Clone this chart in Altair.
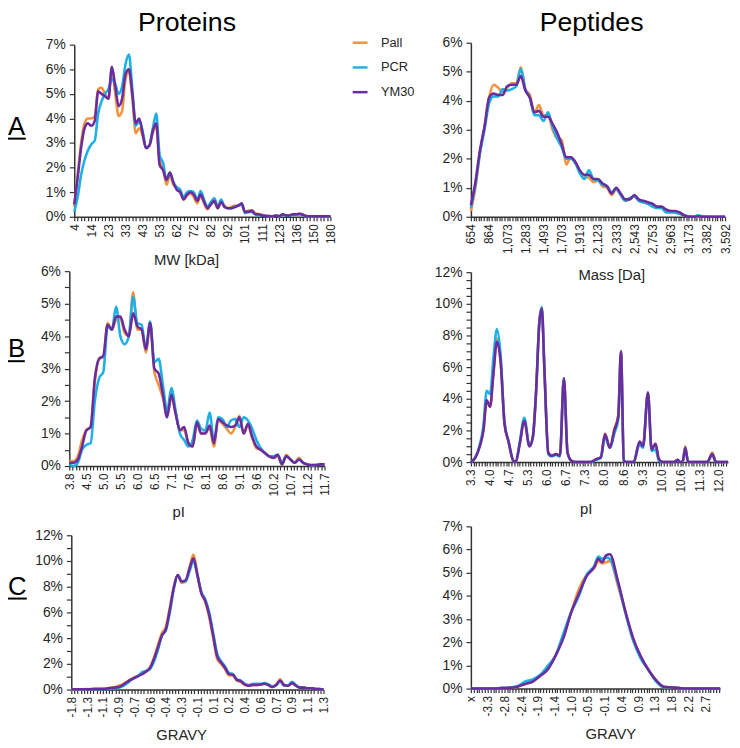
import json
import altair as alt
import pandas as pd

FONT = "Liberation Sans"
TXT = "#262626"
SERIES = ["Pall", "PCR", "YM30"]
COLORS = ["#F5923E", "#1DB0E6", "#6A2DA0"]
M = 8  # page margin

# ---------------- A: proteins MW ----------------
mw_labels = ["4", "14", "23", "33", "43", "53", "62", "72", "82", "92", "101", "111", "123", "136", "150", "180"]
mw_cat = list(range(76))  # category index, 5 categories per label
mw_pall = [0.4, 1.7, 3.0, 3.8, 4.0, 4.0, 4.1, 5.2, 5.25, 5.0,
           4.8, 6.0, 5.0, 4.1, 4.3, 5.6, 5.9, 4.8, 3.4, 3.6,
           3.3, 2.8, 2.9, 3.4, 3.7, 2.3, 2.0, 1.3, 1.7, 1.3,
           1.2, 1.1, 0.7, 0.85, 0.95, 0.8, 0.55, 0.85, 0.55, 0.3,
           0.55, 0.6, 0.35, 0.6, 0.45, 0.35, 0.4, 0.45, 0.45, 0.5,
           0.2, 0.25, 0.25, 0.15, 0.1, 0.08, 0.05, 0.03, 0.02, 0.05,
           0.03, 0.1, 0.05, 0.05, 0.1, 0.1, 0.12, 0.08, 0.03, 0.02,
           0.02, 0.02, 0.02, 0.02, 0.02, 0.02]
mw_pcr = [0.2, 0.8, 1.7, 2.3, 2.7, 2.95, 3.1, 4.2, 4.7, 5.0,
          5.2, 5.6, 5.4, 5.0, 5.3, 6.2, 6.6, 5.2, 3.7, 3.9,
          3.5, 2.8, 2.9, 3.6, 4.2, 2.5, 2.2, 1.5, 1.8, 1.4,
          1.2, 1.1, 0.8, 1.0, 1.05, 1.0, 0.7, 1.05, 0.7, 0.4,
          0.6, 0.75, 0.4, 0.7, 0.4, 0.35, 0.35, 0.4, 0.45, 0.5,
          0.15, 0.2, 0.2, 0.1, 0.05, 0.05, 0.03, 0.02, 0.02, 0.04,
          0.02, 0.08, 0.04, 0.04, 0.08, 0.08, 0.1, 0.06, 0.02, 0.02,
          0.02, 0.02, 0.02, 0.02, 0.02, 0.02]
mw_ym30 = [0.5, 1.6, 2.8, 3.6, 3.8, 3.7, 3.9, 5.1, 5.0, 4.9,
           4.8, 6.1, 5.3, 4.5, 4.8, 5.8, 6.0, 5.0, 3.8, 4.0,
           3.4, 2.8, 2.9, 3.5, 3.8, 2.1, 1.9, 1.5, 1.8, 1.4,
           1.1, 1.0, 0.7, 0.9, 1.0, 0.9, 0.65, 0.9, 0.6, 0.35,
           0.5, 0.65, 0.35, 0.6, 0.4, 0.35, 0.35, 0.4, 0.45, 0.55,
           0.2, 0.2, 0.25, 0.1, 0.1, 0.05, 0.03, 0.03, 0.02, 0.05,
           0.03, 0.1, 0.05, 0.05, 0.1, 0.1, 0.12, 0.08, 0.03, 0.02,
           0.02, 0.02, 0.02, 0.02, 0.02, 0.02]

# ---------------- A: peptides mass ----------------
mass_labels = ["654", "864", "1,073", "1,283", "1,493", "1,703", "1,913", "2,123", "2,333",
               "2,543", "2,753", "2,963", "3,173", "3,382", "3,592"]
mass_pos = [i * 0.25 for i in range(57)]
mass_pall = [0.2, 1.0, 2.2, 3.1, 4.1, 4.55, 4.45, 4.3, 4.45, 4.6,
             4.6, 5.15, 4.4, 4.2, 3.6, 3.85, 3.5, 3.5, 3.0, 2.7,
             2.65, 1.8, 2.05, 1.85, 1.6, 1.4, 1.35, 1.2, 1.25, 1.05,
             1.0, 0.75, 0.95, 0.75, 0.55, 0.6, 0.7, 0.55, 0.5, 0.45,
             0.4, 0.3, 0.3, 0.2, 0.2, 0.15, 0.1, 0.05, 0.0, 0.0,
             0.0, 0.0, 0.0, 0.0, 0.0, 0.0, 0.0]
mass_pcr = [0.3, 1.1, 2.2, 3.0, 3.9, 4.15, 4.15, 4.4, 4.35, 4.4,
            4.5, 5.1, 4.4, 4.1, 3.5, 3.5, 3.3, 3.6, 3.1, 2.7,
            2.4, 2.0, 2.0, 1.85, 1.5, 1.3, 1.6, 1.3, 1.25, 1.1,
            1.05, 0.85, 0.95, 0.75, 0.55, 0.65, 0.7, 0.55, 0.5, 0.45,
            0.35, 0.3, 0.3, 0.15, 0.15, 0.15, 0.1, 0.05, 0.02, 0.0,
            0.05, 0.02, 0.0, 0.0, 0.0, 0.0, 0.0]
mass_ym30 = [0.4, 1.2, 2.3, 3.1, 4.1, 4.25, 4.2, 4.2, 4.5, 4.55,
             4.55, 4.85, 4.35, 4.1, 3.6, 3.65, 3.45, 3.45, 3.2, 2.9,
             2.5, 2.05, 2.05, 1.9, 1.6, 1.45, 1.45, 1.3, 1.3, 1.15,
             1.05, 0.8, 1.0, 0.8, 0.6, 0.6, 0.75, 0.6, 0.55, 0.5,
             0.45, 0.35, 0.35, 0.25, 0.2, 0.2, 0.15, 0.05, 0.0, 0.0,
             0.02, 0.0, 0.0, 0.0, 0.0, 0.0, 0.0]

# ---------------- B: proteins pI ----------------
ppi_labels = ["3.8", "4.5", "5.0", "5.5", "6.0", "6.5", "7.1", "7.6", "8.1", "8.6",
              "9.1", "9.6", "10.2", "10.7", "11.2", "11.7"]
ppi_pos = [i * 0.25 for i in range(61)]
ppi_pall = [0.15, 0.15, 0.3, 0.8, 1.1, 1.2, 2.6, 3.3, 3.35, 4.4,
            4.2, 4.5, 4.55, 4.1, 4.0, 5.35, 4.2, 4.2, 3.5, 4.4,
            2.9, 2.5, 2.1, 1.6, 2.1, 1.65, 1.1, 1.1, 0.7, 0.6,
            1.3, 1.0, 1.05, 1.15, 0.6, 1.4, 1.3, 1.15, 1.0, 1.2,
            1.55, 1.0, 1.25, 0.85, 0.55, 0.5, 0.4, 0.3, 0.25, 0.3,
            0.05, 0.35, 0.2, 0.1, 0.25, 0.1, 0.05, 0.03, 0.03, 0.05,
            0.05]
ppi_pcr = [0.05, 0.0, 0.1, 0.5, 0.65, 0.7, 2.0, 2.7, 2.9, 4.3,
           4.2, 4.9, 4.0, 3.75, 4.0, 5.2, 4.4, 4.35, 3.6, 4.45,
           3.2, 3.3, 2.5, 1.7, 2.4, 1.7, 1.0, 0.8, 0.6, 0.8,
           1.4, 1.15, 1.1, 1.65, 0.75, 1.5, 1.45, 1.2, 1.4, 1.45,
           1.2, 1.5, 1.4, 1.15, 0.8, 0.55, 0.4, 0.3, 0.3, 0.35,
           0.1, 0.3, 0.2, 0.1, 0.2, 0.1, 0.05, 0.02, 0.03, 0.05,
           0.05]
ppi_ym30 = [0.1, 0.1, 0.2, 0.6, 1.1, 1.2, 2.7, 3.3, 3.4, 4.35,
            4.2, 4.6, 4.6, 4.2, 4.0, 4.7, 4.3, 4.2, 3.6, 4.4,
            3.0, 2.85, 2.2, 1.5, 2.2, 1.6, 1.1, 1.2, 0.7, 0.6,
            1.35, 1.0, 1.0, 1.25, 0.7, 1.45, 1.35, 1.25, 1.2, 1.25,
            1.5, 1.0, 1.3, 0.9, 0.6, 0.5, 0.4, 0.3, 0.25, 0.35,
            0.05, 0.3, 0.2, 0.1, 0.2, 0.1, 0.05, 0.03, 0.03, 0.05,
            0.05]

# ---------------- B: peptides pI ----------------
epi_labels = ["3.3", "4.0", "4.7", "5.3", "6.0", "6.7", "7.3", "8.0", "8.6", "9.3",
              "10.0", "10.6", "11.3", "12.0"]
epi_pos = [0.00, 0.24, 0.47, 0.66, 0.83, 1.01, 1.18, 1.37, 1.56, 1.77,
           1.98, 2.22, 2.36, 2.56, 2.81, 3.08, 3.26, 3.43, 3.60, 3.73,
           3.86, 4.07, 4.25, 4.47, 4.68, 4.89, 5.08, 5.27, 5.49, 6.27,
           6.62, 6.83, 7.05, 7.31, 7.54, 7.75, 7.89, 8.04, 8.18, 8.56,
           8.87, 9.05, 9.31, 9.50, 9.71, 9.88, 10.09, 10.69, 10.87, 10.99,
           11.13, 11.27, 11.42, 12.43, 12.69, 12.89, 13.52]
epi_pall = [0, 0.3, 1.0, 2.0, 3.8, 3.5, 5.6, 7.8, 6.4, 2.4,
            1.3, 0.1, 0.0, 1.1, 2.6, 1.0, 1.6, 4.5, 8.8, 9.7,
            6.0, 0.6, 0.4, 0.5, 0.4, 5.3, 0.6, 0.1, 0, 0,
            0.2, 0.3, 1.8, 0.9, 2.1, 3.0, 7.0, 0.1, 0, 0,
            1.3, 1.0, 4.4, 0.8, 1.15, 0.2, 0, 0, 0.15, 0,
            0, 1.0, 0, 0, 0.6, 0, 0]
epi_pcr = [0, 0.3, 1.1, 2.3, 4.5, 4.3, 6.5, 8.4, 6.8, 2.5,
           1.3, 0.1, 0.0, 1.2, 2.8, 1.0, 1.6, 4.5, 8.9, 9.8,
           6.1, 0.5, 0.35, 0.45, 0.35, 5.3, 0.6, 0.1, 0, 0,
           0.15, 0.25, 1.6, 0.9, 1.8, 2.7, 6.9, 0.1, 0, 0,
           1.1, 0.9, 4.4, 0.7, 0.8, 0.1, 0, 0, 0.15, 0,
           0, 0.9, 0, 0, 0.45, 0, 0]
epi_ym30 = [0, 0.3, 1.0, 2.0, 3.9, 3.5, 5.5, 7.6, 6.4, 2.4,
            1.3, 0.1, 0.0, 1.1, 2.6, 1.0, 1.6, 4.5, 8.8, 9.7,
            6.0, 0.6, 0.4, 0.5, 0.4, 5.3, 0.6, 0.1, 0, 0,
            0.2, 0.3, 1.75, 0.9, 2.0, 2.9, 7.0, 0.1, 0, 0,
            1.3, 1.0, 4.4, 0.8, 1.15, 0.2, 0, 0, 0.15, 0,
            0, 0.9, 0, 0, 0.5, 0, 0]

# ---------------- C: proteins GRAVY ----------------
pgr_labels = ["-1.8", "-1.3", "-1.1", "-0.9", "-0.7", "-0.6", "-0.4", "-0.3", "-0.1",
              "0.1", "0.2", "0.4", "0.6", "0.7", "0.9", "1.1", "1.3"]
pgr_pos = [i * 0.25 for i in range(65)]
pgr_pall = [0.03, 0.03, 0.03, 0.03, 0.05, 0.05, 0.07, 0.07, 0.08, 0.1,
            0.15, 0.2, 0.3, 0.4, 0.6, 0.8, 0.95, 1.1, 1.25, 1.4,
            1.75, 2.5, 3.5, 4.4, 4.9, 6.4, 8.0, 8.9, 8.3, 8.4,
            9.5, 10.5, 9.0, 7.5, 6.8, 5.6, 4.0, 2.4, 2.0, 1.6,
            1.1, 1.1, 0.7, 0.6, 0.35, 0.3, 0.35, 0.35, 0.4, 0.45,
            0.35, 0.2, 0.4, 0.8, 0.35, 0.3, 0.5, 0.3, 0.15, 0.15,
            0.1, 0.1, 0.05, 0.05, 0.0]
pgr_pcr = [0.02, 0.02, 0.02, 0.02, 0.02, 0.02, 0.03, 0.03, 0.04, 0.05,
           0.08, 0.1, 0.15, 0.25, 0.45, 0.7, 0.9, 1.05, 1.35, 1.45,
           1.6, 2.2, 3.1, 4.2, 4.6, 6.0, 7.8, 8.9, 8.4, 8.4,
           9.2, 10.0, 8.9, 7.6, 7.0, 6.0, 4.4, 2.8, 2.2, 1.8,
           1.3, 1.2, 0.8, 0.7, 0.45, 0.35, 0.45, 0.45, 0.45, 0.5,
           0.4, 0.25, 0.35, 0.65, 0.3, 0.3, 0.6, 0.35, 0.15, 0.15,
           0.1, 0.1, 0.05, 0.05, 0.0]
pgr_ym30 = [0.02, 0.02, 0.02, 0.02, 0.03, 0.03, 0.05, 0.05, 0.05, 0.08,
            0.12, 0.15, 0.2, 0.35, 0.55, 0.75, 0.9, 1.05, 1.2, 1.4,
            1.7, 2.4, 3.3, 4.2, 4.7, 6.2, 7.9, 8.9, 8.4, 8.5,
            9.4, 10.2, 8.9, 7.5, 6.9, 5.8, 4.2, 2.6, 2.1, 1.7,
            1.2, 1.15, 0.75, 0.65, 0.4, 0.3, 0.35, 0.35, 0.4, 0.45,
            0.35, 0.2, 0.35, 0.7, 0.35, 0.3, 0.5, 0.3, 0.15, 0.15,
            0.1, 0.1, 0.05, 0.05, 0.0]

# ---------------- C: peptides GRAVY ----------------
egr_labels = ["x", "-3.3", "-2.8", "-2.4", "-1.9", "-1.4", "-1.0", "-0.5", "-0.1",
              "0.4", "0.9", "1.3", "1.8", "2.2", "2.7"]
egr_pos = [0, 0.46, 0.92, 1.38, 1.85, 2.31, 2.77, 3.23, 3.69, 4.15, 4.62, 5.08, 5.54, 6.0,
           6.46, 6.92, 7.38, 7.62, 7.85, 8.08, 8.31, 8.77, 9.23, 9.69, 10.15, 10.62, 11.08,
           11.54, 12.0, 12.46, 12.92, 13.85, 14.9]
egr_pall = [0, 0, 0, 0, 0.02, 0.03, 0.08, 0.2, 0.3, 0.55, 0.9, 1.45, 2.3, 3.3, 4.3, 4.9, 5.2,
            5.5, 5.4, 5.45, 5.5, 4.5, 3.3, 2.1, 1.35, 0.8, 0.35, 0.08, 0.05, 0.02, 0, 0, 0]
egr_pcr = [0, 0, 0, 0, 0.03, 0.05, 0.1, 0.3, 0.4, 0.6, 1.0, 1.45, 2.4, 3.3, 4.0, 4.9, 5.3,
           5.7, 5.6, 5.65, 5.6, 4.6, 3.3, 2.1, 1.3, 0.8, 0.3, 0.06, 0.05, 0.02, 0, 0, 0]
egr_ym30 = [0, 0, 0, 0, 0.02, 0.03, 0.08, 0.2, 0.3, 0.55, 0.85, 1.45, 2.2, 3.3, 4.1, 4.85, 5.25,
            5.6, 5.45, 5.75, 5.8, 4.7, 3.35, 2.2, 1.4, 0.8, 0.35, 0.08, 0.05, 0.02, 0, 0, 0]

W, H = 732, 740  # whole view (page minus margin)


def long_frame(pos, pall, pcr, ym30):
    rows = []
    for name, vals in zip(SERIES, (pall, pcr, ym30)):
        for p, v in zip(pos, vals):
            rows.append({"x": p, "v": v, "s": name})
    return pd.DataFrame(rows)


LEG = alt.Legend(orient="none", legendX=355 - M, legendY=42 - M - 12, title=None, symbolType="stroke",
                 symbolSize=225, symbolStrokeWidth=2.5, labelFontSize=13, labelFont=FONT,
                 labelColor=TXT, rowPadding=9, labelOffset=12, padding=0)


def panel(pos, pall, pcr, ym30, labels, k, xmax, ymax, ymajor, yminor,
          px0, px1, py0, py1, xtitle, tx, ty):
    """px0/px1: page x of first/last domain value; py0: page y of 0%, py1: page y of ymax."""
    df = long_frame(pos, pall, pcr, ym30)
    n = len(labels)
    xvals = [round(j / k, 6) for j in range(int(round(xmax * k)) + 1)]
    arr = json.dumps(labels)
    x_expr = (f"abs(datum.value - round(datum.value)) < 0.001 && round(datum.value) < {n} "
              f"? {arr}[round(datum.value)] : ''")
    yvals = [round(i * yminor, 6) for i in range(int(round(ymax / yminor)) + 1)]
    y_expr = (f"abs(datum.value / {ymajor} - round(datum.value / {ymajor})) < 0.001 "
              f"? round(datum.value) + '%' : ''")
    xenc = alt.X("x:Q",
                 scale=alt.Scale(domain=[0, xmax], range=[px0 - M, px1 - M], nice=False, zero=False),
                 axis=alt.Axis(orient="bottom", offset=(py0 - M) - H, values=xvals, labelExpr=x_expr,
                               labelAngle=-90, labelOverlap=False, labelFlush=False, labelPadding=3,
                               labelFontSize=12, tickSize=4, grid=False, title=xtitle,
                               titleX=tx - M, titleY=ty - py0, titleBaseline="middle",
                               titleAlign="center", titleFontSize=15, titleFontWeight="normal"))
    yenc = alt.Y("v:Q",
                 scale=alt.Scale(domain=[0, ymax], range=[py0 - M, py1 - M], nice=False, zero=True),
                 axis=alt.Axis(orient="left", offset=-(px0 - M), values=yvals, labelExpr=y_expr,
                               grid=False, title=None, tickSize=5, labelFontSize=14,
                               labelPadding=4, labelOverlap=False))
    cenc = alt.Color("s:N", scale=alt.Scale(domain=SERIES, range=COLORS), legend=LEG)
    layers = []
    for name in SERIES:
        layers.append(
            alt.Chart(df).transform_filter(alt.datum.s == name)
            .mark_line(strokeWidth=2.6, interpolate="monotone")
            .encode(x=xenc, y=yenc, color=cenc)
        )
    return alt.layer(*layers)


def text_item(txt, x, y, size, align="center"):
    d = pd.DataFrame({"t": [txt]})
    return alt.Chart(d).mark_text(fontSize=size, font=FONT, align=align, baseline="alphabetic",
                                  color="black").encode(text="t:N", x=alt.value(x - M), y=alt.value(y - M))


def underline(x0, x1, y):
    d = pd.DataFrame({"t": ["u"]})
    return alt.Chart(d).mark_rule(color="black", strokeWidth=2).encode(
        x=alt.value(x0 - M), x2=alt.value(x1 - M), y=alt.value(y - M))


a_left = panel([c / 5 for c in mw_cat], mw_pall, mw_pcr, mw_ym30, mw_labels, 5, 15, 7, 1, 1,
               75, 334, 215, 41, "MW [kDa]", 188, 258)
a_right = panel(mass_pos, mass_pall, mass_pcr, mass_ym30, mass_labels, 7, 14, 6, 1, 1,
                476, 733, 215, 39, "Mass [Da]", 618, 273)
b_left = panel(ppi_pos, ppi_pall, ppi_pcr, ppi_ym30, ppi_labels, 5, 15, 6, 1, 0.5,
               70, 328, 467, 270, "pI", 180, 513)
b_right = panel(epi_pos, epi_pall, epi_pcr, epi_ym30, epi_labels, 7, 13.52, 12, 2, 0.5,
                476, 736, 463, 271, "pI", 592, 510)
c_left = panel(pgr_pos, pgr_pall, pgr_pcr, pgr_ym30, pgr_labels, 5, 16, 12, 2, 1,
               72, 327, 693, 537, "GRAVY", 183, 739)
c_right = panel(egr_pos, egr_pall, egr_pcr, egr_ym30, egr_labels, 6, 14.9, 7, 1, 1,
                476, 728, 692, 528, "GRAVY", 617, 737)

annotations = [
    text_item("Proteins", 189, 27, 27),
    text_item("Peptides", 598, 27, 27),
    text_item("A", 8, 132, 26, align="left"),
    underline(8, 26, 136),
    text_item("B", 8, 357, 26, align="left"),
    underline(8, 25, 361),
    text_item("C", 8, 597, 26, align="left"),
    underline(8, 27, 601),
]

chart = alt.layer(a_left, a_right, b_left, b_right, c_left, c_right, *annotations).resolve_scale(
    x="independent", y="independent"
).resolve_axis(
    x="independent", y="independent"
).properties(
    width=W, height=H, autosize=alt.AutoSizeParams(type="none"),
    padding={"left": 0, "top": 0, "right": 0, "bottom": 0}
).configure_view(stroke=None).configure_axis(
    labelFont=FONT, titleFont=FONT, labelColor=TXT, titleColor=TXT,
    domainColor="#333333", tickColor="#333333", domainWidth=1.5, tickWidth=1.2
)

chart.save("out.html", embed_options={"renderer": "svg", "actions": False})
